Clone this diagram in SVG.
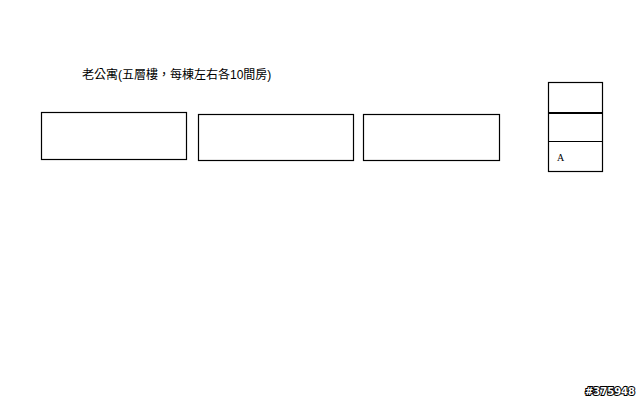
<svg xmlns="http://www.w3.org/2000/svg" width="640" height="400" viewBox="0 0 640 400">
<style>
.box{fill:#fff;stroke:#000;stroke-width:1.2}
.t{font-family:"Liberation Sans","Noto Sans CJK TC",sans-serif;font-size:12px;fill:#000}
.s{font-family:"Liberation Serif",serif;font-size:10px;fill:#000}
.wm{font-family:"DejaVu Sans",sans-serif;font-weight:bold;font-size:10px;fill:#fff;stroke:#000;stroke-width:2;paint-order:stroke}
</style>
<rect width="640" height="400" fill="#fff"/>
<text class="t" x="82" y="79">老公寓(五層樓，每棟左右各10間房)</text>
<g id="building1"><rect class="box" x="41.5" y="112.5" width="145" height="47"/></g>
<g id="building2"><rect class="box" x="198.5" y="114.5" width="155" height="46"/></g>
<g id="building3"><rect class="box" x="363.5" y="114.5" width="136" height="46"/></g>
<g id="stack">
<rect class="box" x="548.5" y="82.5" width="54" height="89"/>
<line x1="548.5" y1="113" x2="602.5" y2="113" stroke="#000" stroke-width="2"/>
<line x1="548.5" y1="141.5" x2="602.5" y2="141.5" stroke="#000" stroke-width="1"/>
<text class="s" x="557" y="161">A</text>
</g>
<g id="connectors"/>
<text class="wm" x="585" y="395" textLength="50" lengthAdjust="spacingAndGlyphs">#375948</text>
</svg>
